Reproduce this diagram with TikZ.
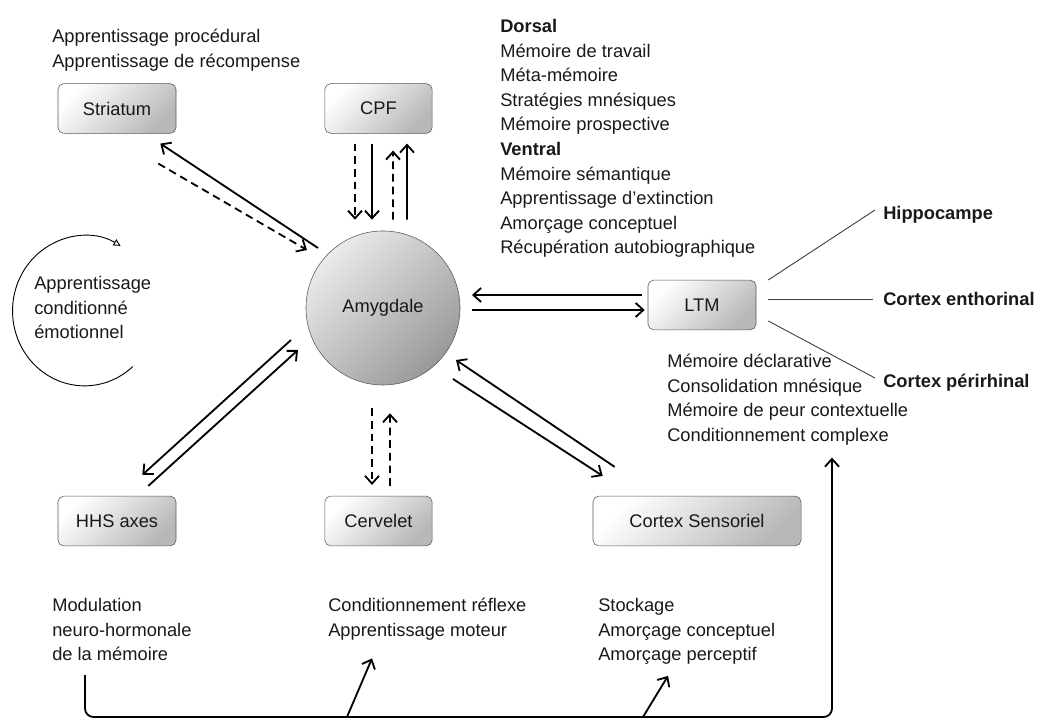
\documentclass[tikz,border=0pt]{standalone}
\usepackage{fontspec}
\setmainfont{Liberation Sans}
\usetikzlibrary{arrows.meta}

\newcommand\txtsize{\fontsize{13}{17.5}\selectfont}

\tikzset{
  region/.style={draw=black!65, rounded corners=4pt, top color=white, bottom color=black!28, shading angle=45, minimum height=1.24cm},
  lab/.style={inner sep=0pt, align=left, anchor=north west},
  key/.style={inner sep=0pt, anchor=west, font=\txtsize\bfseries},
  arr/.style={line width=1.3pt, -{Straight Barb[length=5.5pt,width=10pt]}},
  dsh/.style={arr, dash pattern=on 5.5pt off 3.5pt},
  link/.style={draw=black!75, line width=0.65pt},
}

\begin{document}
\begin{tikzpicture}[x=0.025cm, y=0.025cm, font=\txtsize, text=black!90]
\useasboundingbox (0,0) rectangle (1040,720);

\node[region, minimum width=2.95cm] (str) at (117,611.5) {Striatum};
\node[region, minimum width=2.68cm] (cpf) at (378.5,611.5) {CPF};
\node[circle, draw=black!65, top color=black!8, bottom color=black!40, shading angle=45, minimum size=3.85cm] (amy) at (383,412) {Amygdale};
\node[region, minimum width=2.7cm] (ltm) at (702,415) {LTM};
\node[region, minimum width=2.95cm] (hhs) at (117,199) {HHS axes};
\node[region, minimum width=2.68cm] (cer) at (378.5,199) {Cervelet};
\node[region, minimum width=5.2cm] (sen) at (697,199) {Cortex Sensoriel};

\node[lab] (strcap) at (52,691) {Apprentissage procédural\\Apprentissage de récompense};
\node[lab] (cpfcap) at (500,701) {\textbf{Dorsal}\\Mémoire de travail\\Méta-mémoire\\Stratégies mnésiques\\Mémoire prospective\\\textbf{Ventral}\\Mémoire sémantique\\Apprentissage d’extinction\\Amorçage conceptuel\\Récupération autobiographique};
\node[lab] (emo) at (34,444) {Apprentissage\\conditionné\\émotionnel};
\node[lab] (ltmcap) at (667,366) {Mémoire déclarative\\Consolidation mnésique\\Mémoire de peur contextuelle\\Conditionnement complexe};
\node[key] (hip) at (883,505) {Hippocampe};
\node[key] (ent) at (883,421) {Cortex enthorinal};
\node[key] (per) at (883,337) {Cortex périrhinal};
\node[lab] (hhscap) at (52,122) {Modulation\\neuro-hormonale\\de la mémoire};
\node[lab] (cercap) at (328,122) {Conditionnement réflexe\\Apprentissage moteur};
\node[lab] (sencap) at (598,122) {Stockage\\Amorçage conceptuel\\Amorçage perceptif};

\draw[arr] ([shift={(-65,60)}]amy.center) -- ([shift={(-16,-10)}]str.south east);
\draw[dsh] ([shift={(-18,-30)}]str.south east) -- ([shift={(-76,58)}]amy.center);

\draw[dsh] ([shift={(-23.5,-10)}]cpf.south) -- ([shift={(-28,11)}]amy.north);
\draw[arr] ([shift={(-6.5,-10)}]cpf.south) -- ([shift={(-11,11)}]amy.north);
\draw[dsh] ([shift={(10,11)}]amy.north) -- ([shift={(14.5,-17)}]cpf.south);
\draw[arr] ([shift={(24,11)}]amy.north) -- ([shift={(28.5,-10)}]cpf.south);

\draw[arr] ([shift={(-6,10)}]ltm.west) -- ([shift={(89,13)}]amy.center);
\draw[arr] ([shift={(89,-2)}]amy.center) -- ([shift={(-3,-5)}]ltm.west);

\draw[arr] ([shift={(-92,-32)}]amy.center) -- ([shift={(-34,21)}]hhs.north east);
\draw[arr] ([shift={(-28,10)}]hhs.north east) -- ([shift={(-85,-42)}]amy.center);

\draw[dsh] ([shift={(-11,-23)}]amy.south) -- ([shift={(-6.5,11)}]cer.north);
\draw[dsh] ([shift={(11.5,10)}]cer.north) -- ([shift={(7,-28)}]amy.south);

\draw[arr] ([shift={(22,29)}]sen.north west) -- ([shift={(73,-52)}]amy.center);
\draw[arr] ([shift={(70,-71)}]amy.center) -- ([shift={(10,20)}]sen.north west);

\draw[link] ([shift={(12,25)}]ltm.east) -- ([shift={(-8,5)}]hip.west);
\draw[link] ([shift={(12,6)}]ltm.east) -- ([shift={(-10,0)}]ent.west);
\draw[link] ([shift={(12,-16)}]ltm.east) -- ([shift={(-8,5)}]per.west);

\draw[line width=0.65pt, -{Triangle[open,length=5pt,width=5pt]}] ([shift={(40,-59)}]emo.center) arc[start angle=-48, end angle=-300, x radius=72, y radius=75];

\coordinate (bl) at (85,3);
\coordinate (br) at (832,3);
\coordinate (b1) at (347,3);
\coordinate (b2) at (643,3);
\draw[arr, rounded corners=6pt] ([shift={(33,-14)}]hhscap.south west) -- (bl) -- (br) -- ([shift={(0,-12)}]br |- ltmcap.south);
\draw[arr] (b1) -- ([shift={(44,-18)}]cercap.south west);
\draw[arr] (b2) -- ([shift={(70,-11)}]sencap.south west);
\end{tikzpicture}
\end{document}
